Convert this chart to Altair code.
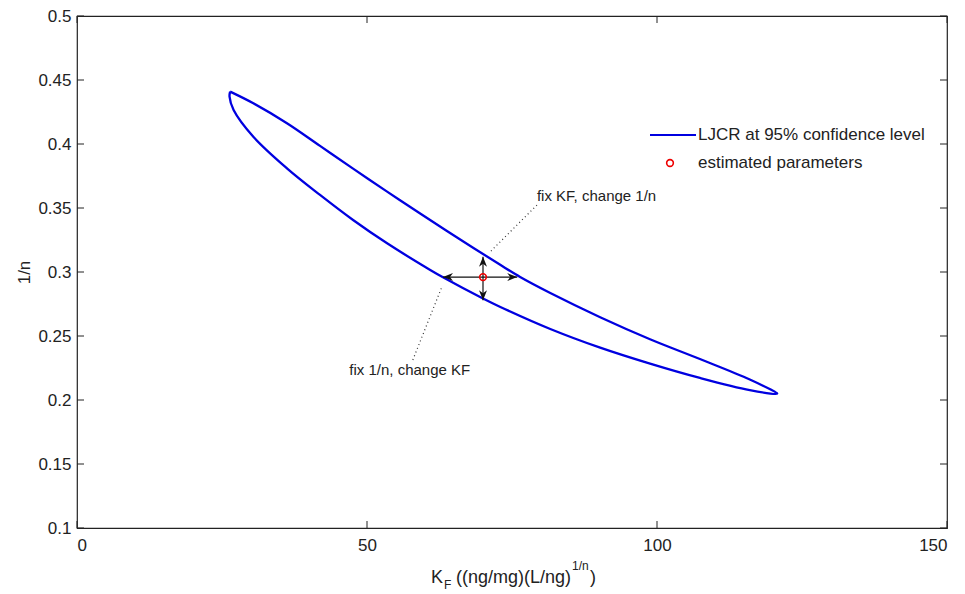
import altair as alt
import pandas as pd

# ---------------- data ----------------
kf_upper = [26.4, 30.4, 36.2, 41.9, 47.6, 53.4, 59.1, 66.0, 72.9, 76.4, 81.6, 90.2, 98.8, 107.4, 116.0, 120.7]
n_upper = [0.4409, 0.4318, 0.4162, 0.3985, 0.3808, 0.3630, 0.3459, 0.3256, 0.3058, 0.2961, 0.2836, 0.2647, 0.2475, 0.2320, 0.2160, 0.2052]
kf_lower = [120.7, 116.0, 107.4, 98.8, 90.2, 81.6, 72.9, 70.0, 63.1, 60.9, 53.4, 47.6, 41.9, 36.2, 30.4, 27.0, 26.3, 26.4]
n_lower = [0.2049, 0.2077, 0.2172, 0.2284, 0.2409, 0.2555, 0.2729, 0.2793, 0.2959, 0.3016, 0.3226, 0.3406, 0.3602, 0.3810, 0.4057, 0.4266, 0.4370, 0.4409]

est_kf = [70.0]
est_n = [0.296]

# arrows: horizontal (fix 1/n, change KF) and vertical (fix KF, change 1/n)
h_arrow_kf = [63.1, 75.9]
h_arrow_n = [0.296]
v_arrow_kf = [70.0]
v_arrow_n = [0.278, 0.312]

# annotation dotted leaders (from label to arrow tip)
lead1_kf = [79.3, 71.2]
lead1_n = [0.3523, 0.3156]
lead2_kf = [57.9, 62.9]
lead2_n = [0.2313, 0.2883]

annot_text = ["fix KF, change 1/n", "fix 1/n, change KF"]
annot_kf = [79.3, 67.8]
annot_n = [0.3594, 0.2238]

legend_labels = ["LJCR at 95% confidence level", "estimated parameters"]

x_ticks = [0, 50, 100, 150]
y_ticks = [0.1, 0.15, 0.2, 0.25, 0.3, 0.35, 0.4, 0.45, 0.5]

BLUE = "#0000e0"
RED = "#ee0000"
FONT = "Liberation Sans"
W, H = 870, 512

# ---------------- tables ----------------
loop = pd.DataFrame({
    "kf": kf_upper + kf_lower,
    "n": n_upper + n_lower,
})
loop["i"] = range(len(loop))

xs = alt.Scale(domain=[0, 150], nice=False, zero=False)
ys = alt.Scale(domain=[0.1, 0.5], nice=False, zero=False)

X = lambda f="kf": alt.X(f, type="quantitative", scale=xs,
                         axis=alt.Axis(values=x_ticks, title=None, grid=False, ticks=False,
                                       domain=False, labelPadding=9, labelFontSize=17,
                                       labelColor="#222", labelFont=FONT))
Y = lambda f="n": alt.Y(f, type="quantitative", scale=ys,
                        axis=alt.Axis(values=y_ticks, format="~g", title="1/n", grid=False,
                                      ticks=False, domain=False, labelPadding=6,
                                      labelFontSize=17, labelColor="#222", labelFont=FONT,
                                      titleFont=FONT, titleFontSize=17, titleFontWeight="normal",
                                      titleColor="#222", titleAngle=270, titleX=-53, titleY=256,
                                      titleAlign="center", titleBaseline="middle"))

ellipse = alt.Chart(loop).mark_line(color=BLUE, strokeWidth=2.3, strokeJoin="round",
                                    interpolate="catmull-rom").encode(
    x=X(), y=Y(), order="i:Q")

h_df = pd.DataFrame({"kf": [h_arrow_kf[0]], "kf2": [h_arrow_kf[1]], "n": h_arrow_n})
v_df = pd.DataFrame({"kf": v_arrow_kf, "n": [v_arrow_n[0]], "n2": [v_arrow_n[1]]})
h_shaft = alt.Chart(h_df).mark_rule(color="#111", strokeWidth=1.2).encode(
    x=alt.X("kf:Q", scale=xs), x2="kf2:Q", y=alt.Y("n:Q", scale=ys))
v_shaft = alt.Chart(v_df).mark_rule(color="#111", strokeWidth=1.2).encode(
    x=alt.X("kf:Q", scale=xs), y=alt.Y("n:Q", scale=ys), y2="n2:Q")

heads = pd.DataFrame({
    "kf": [h_arrow_kf[0], h_arrow_kf[1], v_arrow_kf[0], v_arrow_kf[0]],
    "n": [h_arrow_n[0], h_arrow_n[0], v_arrow_n[1], v_arrow_n[0]],
    "ang": [180, 0, 270, 90],
})
arrow_path = "M0,0 L-2,-0.8 L-1.4,0 L-2,0.8 Z"
arrowheads = alt.Chart(heads).mark_point(shape=arrow_path, filled=True, color="#111",
                                         size=100, opacity=1).encode(
    x=alt.X("kf:Q", scale=xs), y=alt.Y("n:Q", scale=ys),
    angle=alt.Angle("ang:Q", scale=None))

lead_df = pd.DataFrame({
    "kf": [lead1_kf[0], lead2_kf[0]], "kf2": [lead1_kf[1], lead2_kf[1]],
    "n": [lead1_n[0], lead2_n[0]], "n2": [lead1_n[1], lead2_n[1]],
})
leaders = alt.Chart(lead_df).mark_rule(color="#333", strokeWidth=1.2, strokeDash=[1, 3]).encode(
    x=alt.X("kf:Q", scale=xs), x2="kf2:Q", y=alt.Y("n:Q", scale=ys), y2="n2:Q")

ann1 = alt.Chart(pd.DataFrame({"kf": [annot_kf[0]], "n": [annot_n[0]], "t": [annot_text[0]]})).mark_text(
    align="left", baseline="middle", font=FONT, fontSize=15, color="#222").encode(
    x=alt.X("kf:Q", scale=xs), y=alt.Y("n:Q", scale=ys), text="t:N")
ann2 = alt.Chart(pd.DataFrame({"kf": [annot_kf[1]], "n": [annot_n[1]], "t": [annot_text[1]]})).mark_text(
    align="right", baseline="middle", font=FONT, fontSize=15, color="#222").encode(
    x=alt.X("kf:Q", scale=xs), y=alt.Y("n:Q", scale=ys), text="t:N")

est = alt.Chart(pd.DataFrame({"kf": est_kf, "n": est_n})).mark_point(
    shape="circle", filled=False, color=RED, size=45, strokeWidth=1.6, opacity=1).encode(
    x=alt.X("kf:Q", scale=xs), y=alt.Y("n:Q", scale=ys))

# ---------------- inward ticks on all four sides ----------------
xt = pd.DataFrame({"kf": x_ticks})
yt = pd.DataFrame({"n": y_ticks})
tick_bottom = alt.Chart(xt).mark_rule(color="#222").encode(
    x=alt.X("kf:Q", scale=xs), y=alt.value(H), y2=alt.value(H - 7))
tick_top = alt.Chart(xt).mark_rule(color="#222").encode(
    x=alt.X("kf:Q", scale=xs), y=alt.value(0), y2=alt.value(7))
tick_left = alt.Chart(yt).mark_rule(color="#222").encode(
    y=alt.Y("n:Q", scale=ys), x=alt.value(0), x2=alt.value(7))
tick_right = alt.Chart(yt).mark_rule(color="#222").encode(
    y=alt.Y("n:Q", scale=ys), x=alt.value(W), x2=alt.value(W - 7))

# ---------------- legend (no box, MATLAB style) ----------------
dummy = pd.DataFrame({"a": [0]})
leg_line = alt.Chart(dummy).mark_rule(color=BLUE, strokeWidth=2.2).encode(
    x=alt.value(573), x2=alt.value(619), y=alt.value(119))
leg_pt = alt.Chart(dummy).mark_point(shape="circle", filled=False, color=RED, size=45,
                                     strokeWidth=1.6, opacity=1).encode(
    x=alt.value(593), y=alt.value(147))
leg_t1 = alt.Chart(dummy).mark_text(align="left", baseline="middle", font=FONT, fontSize=17,
                                    color="#222").encode(
    x=alt.value(621), y=alt.value(119), text=alt.value(legend_labels[0]))
leg_t2 = alt.Chart(dummy).mark_text(align="left", baseline="middle", font=FONT, fontSize=17,
                                    color="#222").encode(
    x=alt.value(621), y=alt.value(147), text=alt.value(legend_labels[1]))

# ---------------- x-axis title with sub/superscript ----------------
def txt(s, x, y, size):
    return alt.Chart(dummy).mark_text(align="left", baseline="alphabetic", font=FONT,
                                      fontSize=size, color="#222").encode(
        x=alt.value(x), y=alt.value(y), text=alt.value(s))

xt_K = txt("K", 354, 567, 18)
xt_F = txt("F", 367, 573, 12)
xt_main = txt("((ng/mg)(L/ng)", 379, 567, 18)
xt_sup = txt("1/n", 495, 554, 12)
xt_close = txt(")", 513, 567, 18)

chart = alt.layer(
    ellipse, h_shaft, v_shaft, arrowheads, leaders, ann1, ann2, est,
    tick_bottom, tick_top, tick_left, tick_right,
    leg_line, leg_pt, leg_t1, leg_t2,
    xt_K, xt_F, xt_main, xt_sup, xt_close,
).properties(
    width=W, height=H,
    padding={"left": 77, "top": 16, "right": 18, "bottom": 66},
    autosize=alt.AutoSizeParams(type="none"),
    background="white",
).configure_view(
    stroke="#222", strokeWidth=1.2, clip=False
)

chart.save("out.html", embed_options={"renderer": "svg", "actions": False})
